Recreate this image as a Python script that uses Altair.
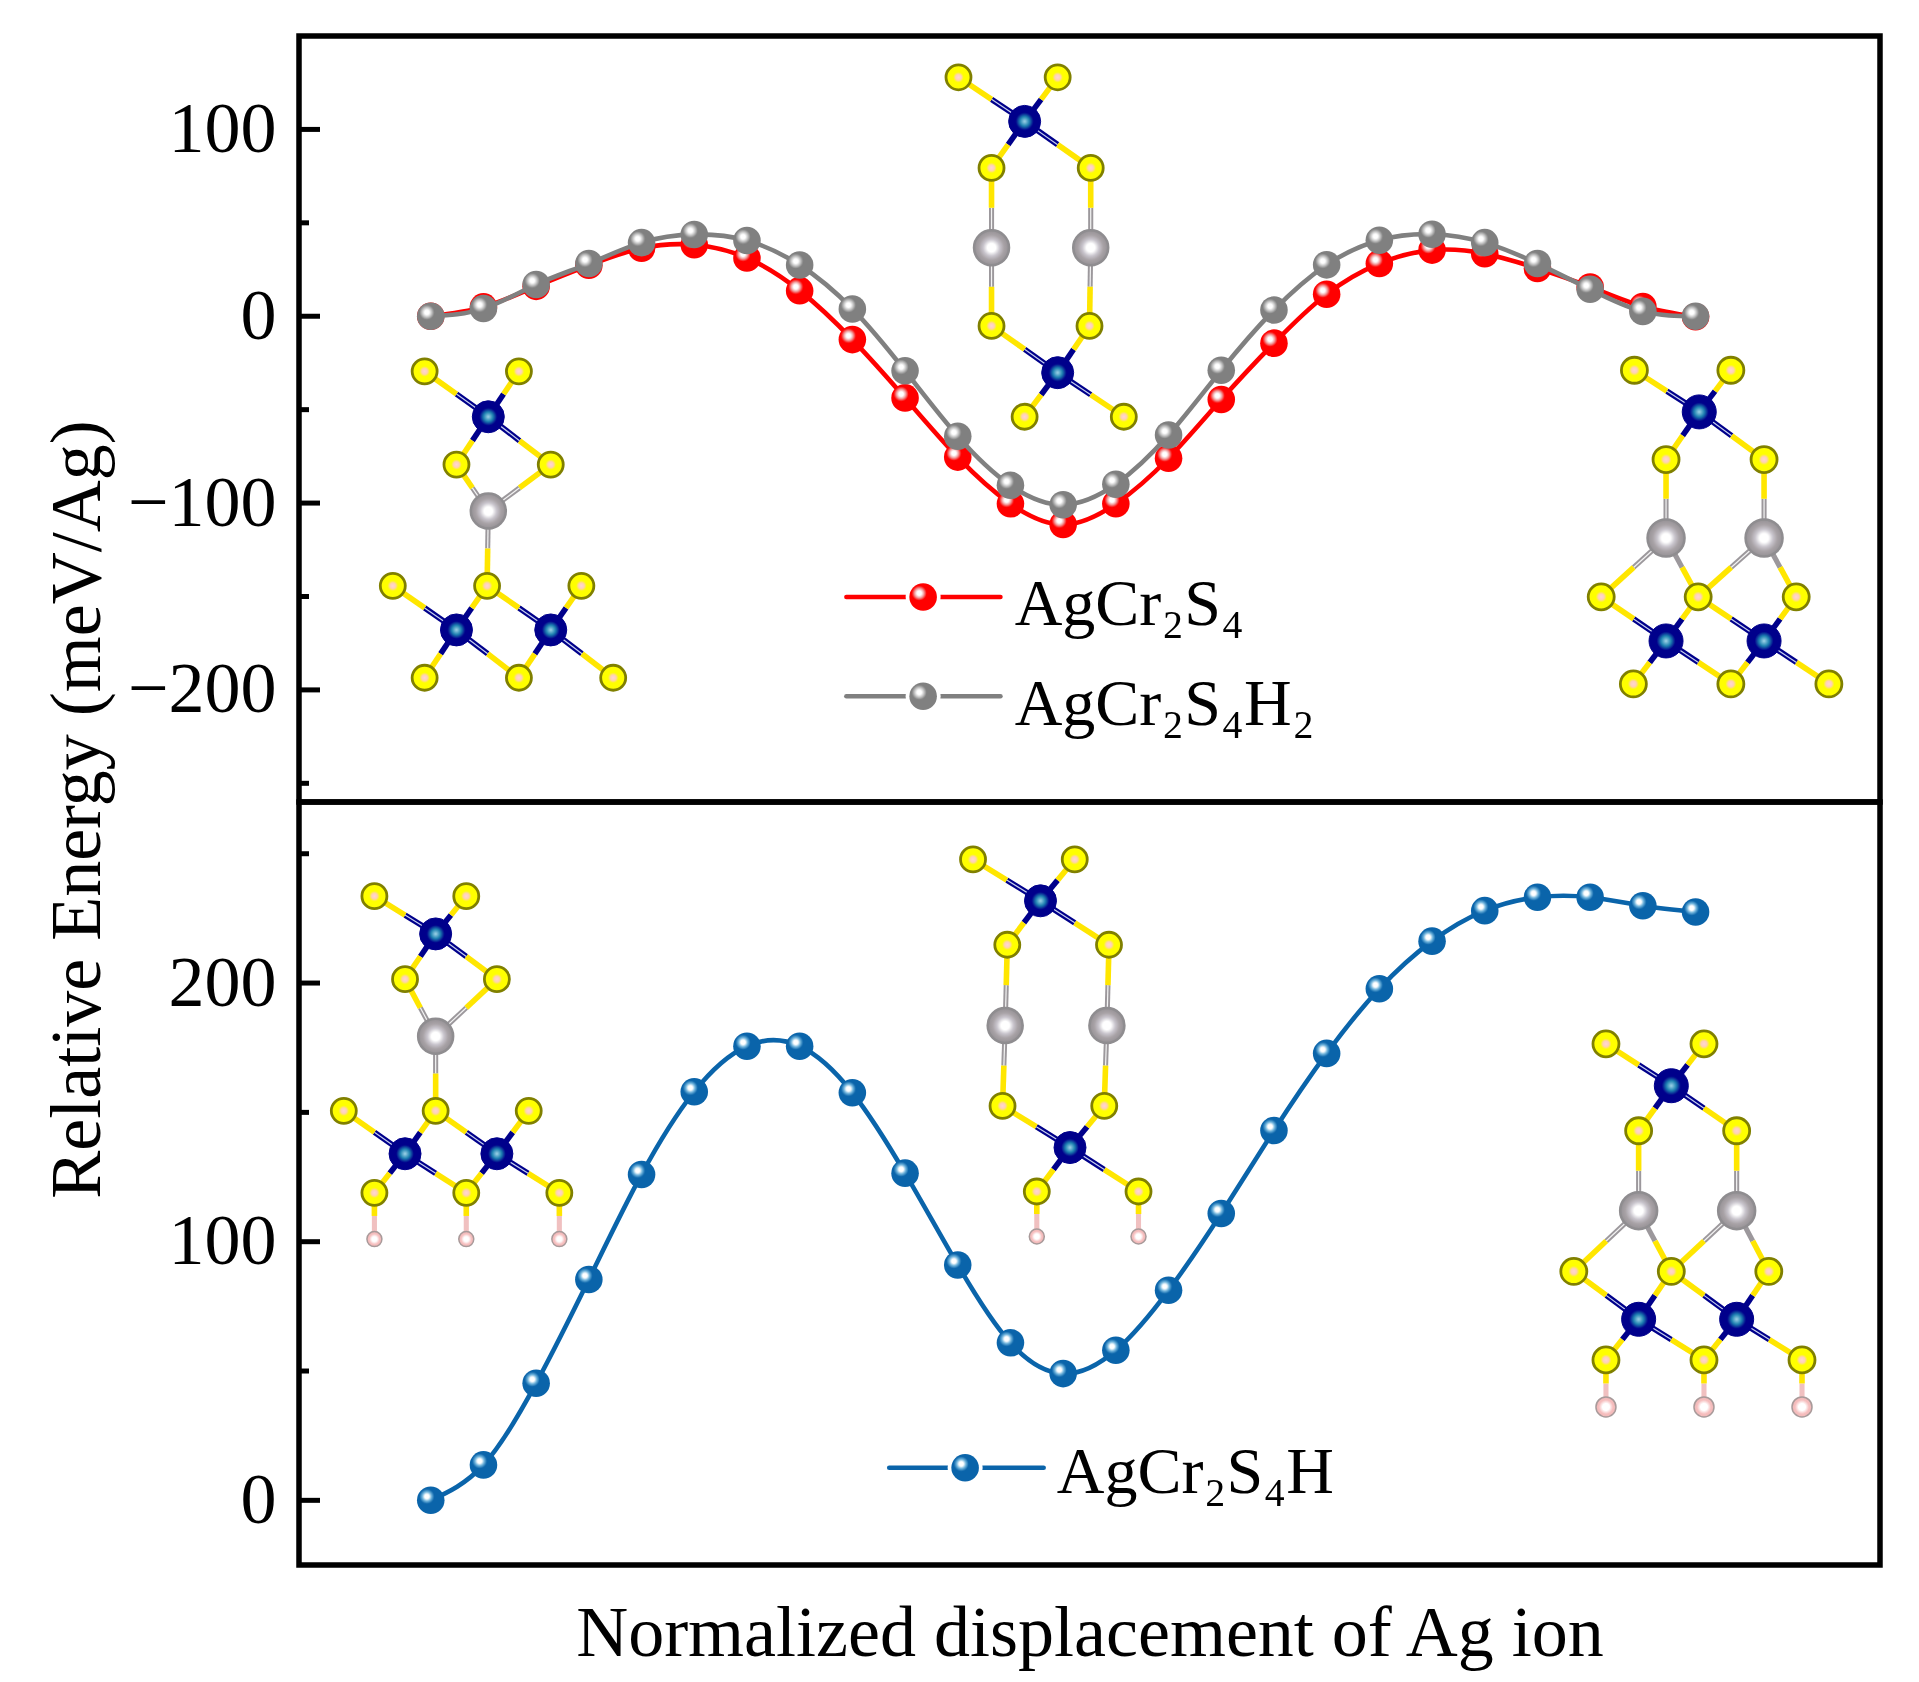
import altair as alt
import pandas as pd

FONT = "Liberation Serif"
IDX = list(range(25))
RED = [0, 5, 16, 27.3, 36.4, 38.3, 31.2, 13.7, -12.5, -43.7, -75.4, -100.4, -111.5,
       -100.4, -76, -44.6, -14.4, 11.8, 28.2, 35.4, 33.5, 25.6, 15.7, 5.2, -0.3]
GRAY = [0, 4.1, 17, 28.2, 39.4, 43.8, 40.5, 27.4, 3.9, -29.2, -64.2, -90.5, -100.9,
        -89.9, -63.6, -28.9, 3.3, 27.5, 40.7, 43.9, 39.4, 28.2, 14.4, 2.6, 0]
BLUE = [0, 13.7, 45.3, 85.4, 126, 158, 175.6, 175.6, 157.6, 126.5, 91, 60.9, 49,
        58, 81.2, 110.9, 143, 172.8, 197.8, 216.2, 228, 233.2, 233.2, 229.9, 227.5]

TOP_DOMAIN = [-260, 150]
BOT_DOMAIN = [-25, 270]
X_DOMAIN = [-2.5, 27.5]

TOP_MAJOR = [-200, -100, 0, 100]
TOP_MINOR = [-250, -150, -50, 50]
BOT_MAJOR = [0, 100, 200]
BOT_MINOR = [50, 150, 250]

# crystal structure sketches, in the axes' own units
EL_A = ["S", "S", "Cr", "S", "S", "Ag", "S", "S", "S", "Cr", "Cr", "S", "S", "S"]
BONDS_A = [(0, 2), (1, 2), (2, 3), (2, 4), (3, 5), (4, 5), (5, 6), (6, 9), (6, 10), (7, 9),
           (8, 10), (9, 11), (9, 12), (10, 12), (10, 13)]
EL_B = ["S", "S", "Cr", "S", "S", "Ag", "Ag", "S", "S", "Cr", "S", "S"]
BONDS_B = [(0, 2), (1, 2), (2, 3), (2, 4), (3, 5), (4, 6), (5, 7), (6, 8), (7, 9), (8, 9),
           (9, 10), (9, 11)]
EL_C = ["S", "S", "Cr", "S", "S", "Ag", "Ag", "S", "S", "S", "Cr", "Cr", "S", "S", "S"]
BONDS_C = [(0, 2), (1, 2), (2, 3), (2, 4), (3, 5), (4, 6), (5, 7), (5, 8), (6, 8), (6, 9),
           (7, 10), (8, 10), (8, 11), (9, 11), (10, 12), (10, 13), (11, 13), (11, 14)]

T1_X = [-0.116, 1.673, 1.092, 0.488, 2.277, 1.092, 1.069, -0.720, 2.858, 0.488, 2.277, -0.116, 1.673, 3.462]
T1_Y = [-29.5, -29.5, -53.8, -79.4, -79.4, -104.3, -144.3, -144.3, -144.3, -167.9, -167.9, -193.5, -193.5, -193.5]
T2_X = [10.014, 11.896, 11.269, 10.641, 12.523, 10.641, 12.523, 10.641, 12.5, 11.896, 11.269, 13.151]
T2_Y = [127.9, 127.9, 104.3, 79.4, 79.4, 36.7, 36.7, -5.2, -5.2, -30.2, -53.8, -53.8]
T3_X = [22.84, 24.67, 24.07, 23.44, 25.30, 23.44, 25.30, 22.21, 24.05, 25.91, 23.44, 25.30, 22.82, 24.67, 26.53]
T3_Y = [-28.9, -28.9, -51.2, -76.7, -76.7, -118.7, -118.7, -150.2, -150.2, -150.2, -173.8, -173.8, -196.8, -196.8, -196.8]

B1_X = [-1.069, 0.674, 0.093, -0.488, 1.255, 0.093, 0.093, -1.650, 1.859, -0.488, 1.255, -1.069, 0.674, 2.44, -1.069, 0.674, 2.44]
B1_Y = [233.6, 233.6, 219, 201.5, 201.5, 179.4, 150.6, 150.6, 150.6, 134, 134, 118.9, 118.9, 118.9, 101, 101, 101]
B2_X = [10.29, 12.22, 11.57, 10.94, 12.87, 10.90, 12.83, 10.85, 12.78, 12.13, 11.50, 13.43, 11.50, 13.43]
B2_Y = [247.8, 247.8, 231.8, 214.8, 214.8, 183.6, 183.6, 152.5, 152.5, 136.4, 119.4, 119.4, 102, 102]
B3_X = [22.30, 24.16, 23.54, 22.92, 24.78, 22.92, 24.78, 21.69, 23.54, 25.39, 22.92, 24.78, 22.30, 24.16, 26.02, 22.30, 24.16, 26.02]
B3_Y = [176.5, 176.5, 160.3, 142.9, 142.9, 112, 112, 88.5, 88.5, 88.5, 70, 70, 54.3, 54.3, 54.3, 36.1, 36.1, 36.1]

BASE = {"S": "#FFE600", "Cr": "#00008B", "Ag": "#9C989C", "H": "#F0C0C0"}
STRIPE = {"Cr": "#C8D0F0", "Ag": "#F4F4F4"}
D_SMALL = {"S": 25, "Cr": 32, "Ag": 35, "H": 15}
D_LARGE = {"S": 26, "Cr": 34, "Ag": 37, "H": 20}


def stops(*pairs):
    return [alt.GradientStop(color=c, offset=o) for o, c in pairs]


def radial(pairs, cx=0.5, cy=0.5, r=0.5):
    return alt.RadialGradient(gradient="radial", stops=stops(*pairs), x1=cx, y1=cy, x2=cx, y2=cy, r1=0, r2=r)


ATOM_STYLE = {
    "S": (radial([(0, "#FFD8D0"), (0.22, "#FFD0B8"), (0.42, "#FFFF00"), (1, "#FFFF00")]), "#808000", 2.8),
    "Cr": (radial([(0, "#A0D4E8"), (0.3, "#1C80B0"), (0.55, "#00008B"), (1, "#00008B")]), "#00008B", 1),
    "Ag": (radial([(0, "#FFFFFF"), (0.24, "#FFFFFF"), (0.48, "#C8C4CC"), (0.72, "#A8A2A6"), (1, "#959195")]), "#8F8D90", 2.5),
    "H": (radial([(0, "#FFFFFF"), (0.35, "#FFFFFF"), (0.7, "#F6BEBE"), (1, "#F0B8B8")]), "#A89A9A", 1.5),
}


def sphere(base, light="#FFFFFF"):
    mid = "#C8C8C8" if base == "#808080" else "#F0A0A0" if base == "#FF0000" else "#70B4DC"
    return radial([(0, light), (0.3, light), (0.62, mid), (1, base)], cx=0.36, cy=0.36, r=0.27)


def bond_layers(mol_x, mol_y, els, bonds, ex, ey, width):
    rows = []
    for a, b in bonds:
        mx, my = (mol_x[a] + mol_x[b]) / 2, (mol_y[a] + mol_y[b]) / 2
        for i in (a, b):
            el = els[i]
            j = b if i == a else a
            long_dx = abs(mol_x[i] - mol_x[j])
            striped = (el == "Cr" and long_dx > 0.9) or (
                el == "Ag" and not (mol_x[j] > mol_x[i] and mol_y[j] < mol_y[i]))
            rows.append(dict(x=mol_x[i], y=mol_y[i], x2=mx, y2=my, el=el, striped=striped))
    df = pd.DataFrame(rows)
    out = []
    for el, sub in df.groupby("el"):
        w = width if el in ("S", "Cr") else width - 0.5
        out.append(alt.Chart(sub).mark_rule(color=BASE[el], strokeWidth=w).encode(
            x=ex, y=ey, x2="x2:Q", y2="y2:Q"))
        st = sub[sub.striped]
        if len(st) and el in STRIPE:
            out.append(alt.Chart(st).mark_rule(color=STRIPE[el], strokeWidth=1.2).encode(
                x=ex, y=ey, x2="x2:Q", y2="y2:Q"))
    return out


def atom_layers(mol_x, mol_y, els, ex, ey, diam):
    df = pd.DataFrame(dict(x=mol_x, y=mol_y, el=els))
    out = []
    for el, sub in df.groupby("el"):
        fill, stroke, sw = ATOM_STYLE[el]
        out.append(alt.Chart(sub).mark_circle(fill=fill, stroke=stroke, strokeWidth=sw,
                                              size=diam[el] ** 2, opacity=1).encode(x=ex, y=ey))
    return out


def molecule(mol_x, mol_y, els, bonds, ex, ey, diam, width=5.6):
    return bond_layers(mol_x, mol_y, els, bonds, ex, ey, width) + atom_layers(mol_x, mol_y, els, ex, ey, diam)


def series(values, color, ex, ey):
    df = pd.DataFrame(dict(x=IDX, y=values))
    return [
        alt.Chart(df).mark_line(color=color, strokeWidth=4.6, interpolate="natural").encode(x=ex, y=ey),
        alt.Chart(df).mark_circle(fill=sphere(color), size=760, opacity=1).encode(x=ex, y=ey),
    ]


def legend_entry(label, color, x0, xm, x1, y, xt, yt, ex, ey):
    seg = pd.DataFrame([dict(x=x0, x2=x1, y=y)])
    mid = pd.DataFrame([dict(x=xm, y=y)])
    txt = pd.DataFrame([dict(x=xt, y=yt, t=label)])
    return [
        alt.Chart(seg).mark_rule(color=color, strokeWidth=4.6, strokeCap="round").encode(x=ex, x2="x2:Q", y=ey),
        alt.Chart(mid).mark_circle(color="white", size=1225, opacity=1).encode(x=ex, y=ey),
        alt.Chart(mid).mark_circle(fill=sphere(color), size=760, opacity=1).encode(x=ex, y=ey),
        alt.Chart(txt).mark_text(font=FONT, fontSize=66, align="left", baseline="alphabetic", color="black").encode(
            x=ex, y=ey, text="t:N"),
    ]


def ticks(major, minor, ey):
    return [
        alt.Chart(pd.DataFrame(dict(y=major))).mark_rule(color="black", strokeWidth=5).encode(
            x=alt.value(0), x2=alt.value(21), y=ey),
        alt.Chart(pd.DataFrame(dict(y=minor))).mark_rule(color="black", strokeWidth=5).encode(
            x=alt.value(0), x2=alt.value(10), y=ey),
    ]


def y_axis(values, **kw):
    return alt.Axis(values=values, ticks=False, domain=False, grid=False, labelFont=FONT, labelFontSize=72,
                    labelColor="black", labelPadding=23, labelOverlap=False, titleFont=FONT, titleFontSize=72,
                    titleFontWeight="normal", titleColor="black", **kw)


def x_scale():
    return alt.Scale(domain=X_DOMAIN, nice=False, zero=False)


# ---------- top panel
ex_t = alt.X("x:Q", scale=x_scale(), axis=None)
ey_t = alt.Y("y:Q", scale=alt.Scale(domain=TOP_DOMAIN, nice=False, zero=False),
             axis=y_axis(TOP_MAJOR, title="Relative Energy (meV/Ag)", titleX=-222, titleY=773,
                         titleAngle=270, titleAlign="center", titleBaseline="middle"))
top_layers = ticks(TOP_MAJOR, TOP_MINOR, ey_t)
top_layers += molecule(T1_X, T1_Y, EL_A, BONDS_A, ex_t, ey_t, D_SMALL)
top_layers += molecule(T2_X, T2_Y, EL_B, BONDS_B, ex_t, ey_t, D_SMALL)
top_layers += molecule(T3_X, T3_Y, EL_C, BONDS_C, ex_t, ey_t, D_LARGE)
top_layers += series(RED, "#FF0000", ex_t, ey_t)
top_layers += series(GRAY, "#808080", ex_t, ey_t)
top_layers += legend_entry("AgCr₂S₄", "#FF0000", 7.887, 9.343, 10.81, -150.3, 11.08, -165, ex_t, ey_t)
top_layers += legend_entry("AgCr₂S₄H₂", "#808080", 7.887, 9.343, 10.81, -203.4, 11.08, -219, ex_t, ey_t)
top = alt.layer(*top_layers).properties(width=1581, height=766)

# ---------- bottom panel
ex_b = alt.X("x:Q", scale=x_scale(),
             axis=alt.Axis(title="Normalized displacement of Ag ion", labels=False, ticks=False, domain=False,
                           grid=False, titleFont=FONT, titleFontSize=72, titleFontWeight="normal",
                           titleColor="black", titlePadding=33))
ey_b = alt.Y("y:Q", scale=alt.Scale(domain=BOT_DOMAIN, nice=False, zero=False), axis=y_axis(BOT_MAJOR, title=""))
bot_layers = ticks(BOT_MAJOR, BOT_MINOR, ey_b)
bot_layers += molecule(B1_X, B1_Y, EL_A + ["H"] * 3, BONDS_A + [(11, 14), (12, 15), (13, 16)], ex_b, ey_b, D_SMALL)
bot_layers += molecule(B2_X, B2_Y, EL_B + ["H"] * 2, BONDS_B + [(10, 12), (11, 13)], ex_b, ey_b, D_SMALL)
bot_layers += molecule(B3_X, B3_Y, EL_C + ["H"] * 3, BONDS_C + [(12, 15), (13, 16), (14, 17)], ex_b, ey_b, D_LARGE)
bot_layers += series(BLUE, "#0A64AA", ex_b, ey_b)
bot_layers += legend_entry("AgCr₂S₄H", "#0A64AA", 8.70, 10.14, 11.63, 12.6, 11.88, 2.8, ex_b, ey_b)
bottom = alt.layer(*bot_layers).properties(width=1581, height=763)

chart = alt.vconcat(top, bottom, spacing=0, bounds="flush").properties(
    padding={"left": 30, "top": 25, "right": 20, "bottom": 10},
    background="white",
).configure_view(stroke="black", strokeWidth=5.5)

chart.save("out.html", embed_options={"renderer": "svg", "actions": False})
